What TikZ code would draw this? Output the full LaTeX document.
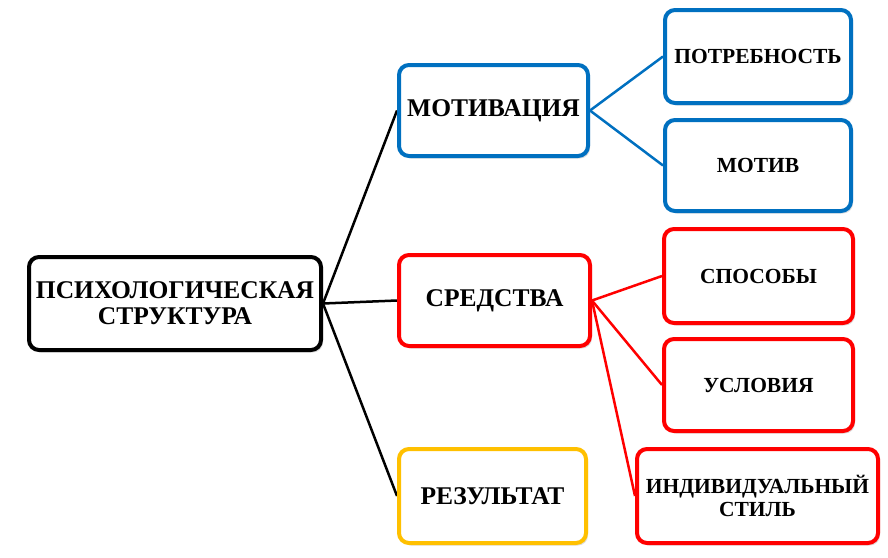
\documentclass[tikz,border=0pt]{standalone}
\usepackage{fontspec}
\setmainfont{Liberation Serif}
\usetikzlibrary{shadows}
\definecolor{cblue}{HTML}{0070C0}
\definecolor{cred}{HTML}{FF0000}
\definecolor{cyel}{HTML}{FFC000}
\tikzset{
  box/.style={rectangle, rounded corners=10pt, line width=4pt, fill=white, align=center,
    font=\fontsize{25.5}{26}\selectfont\bfseries, text=black, inner sep=2pt,
    drop shadow={opacity=0.25, shadow xshift=2pt, shadow yshift=-2.5pt}},
  small/.style={font=\fontsize{21.5}{23}\selectfont\bfseries},
  conn/.style={line width=2.5pt},
}
\begin{document}
\begin{tikzpicture}[x=1pt,y=-1pt]
\useasboundingbox (0,0) rectangle (888,557);
% connectors first (behind boxes)
\coordinate (rE) at (323,303.5);
\coordinate (mW) at (397,110.5);
\coordinate (mE) at (590,110.5);
\coordinate (sW) at (397,300.5);
\coordinate (sE) at (592,300.5);
\coordinate (zW) at (397,496);
\coordinate (pW) at (663,56.5);
\coordinate (vW) at (663,165.5);
\coordinate (aW) at (662,276);
\coordinate (uW) at (662,385);
\coordinate (iW) at (635,496);
\draw[conn, black] (rE) -- (mW);
\draw[conn, black] (rE) -- (sW);
\draw[conn, black] (rE) -- (zW);
\draw[conn, cblue] (mE) -- (pW);
\draw[conn, cblue] (mE) -- (vW);
\draw[conn, cred] (sE) -- (aW);
\draw[conn, cred] (sE) -- (uW);
\draw[conn, cred] (sE) -- (iW);
% boxes
\node[box, draw=black, minimum width=292pt, minimum height=93pt] (root) at (175,303.5) {ПСИХОЛОГИЧЕСКАЯ\\СТРУКТУРА};
\node[box, draw=cblue, minimum width=189pt, minimum height=91pt] (mot) at (493.5,110.5) {МОТИВАЦИЯ};
\node[box, draw=cred, minimum width=191pt, minimum height=91pt] (sred) at (494.5,300.5) {СРЕДСТВА};
\node[box, draw=cyel, minimum width=187pt, minimum height=94pt] (rez) at (492.5,496) {РЕЗУЛЬТАТ};
\node[box, small, draw=cblue, minimum width=186pt, minimum height=93pt] (potr) at (758,56.5) {ПОТРЕБНОСТЬ};
\node[box, small, draw=cblue, minimum width=186pt, minimum height=91pt] (motiv) at (758,165.5) {МОТИВ};
\node[box, small, draw=cred, minimum width=189pt, minimum height=94pt] (spos) at (758.5,276) {СПОСОБЫ};
\node[box, small, draw=cred, minimum width=189pt, minimum height=92pt] (usl) at (758.5,385) {УСЛОВИЯ};
\node[box, small, draw=cred, minimum width=241pt, minimum height=94pt] (ind) at (757.5,496) {ИНДИВИДУАЛЬНЫЙ\\СТИЛЬ};
\end{tikzpicture}
\end{document}
